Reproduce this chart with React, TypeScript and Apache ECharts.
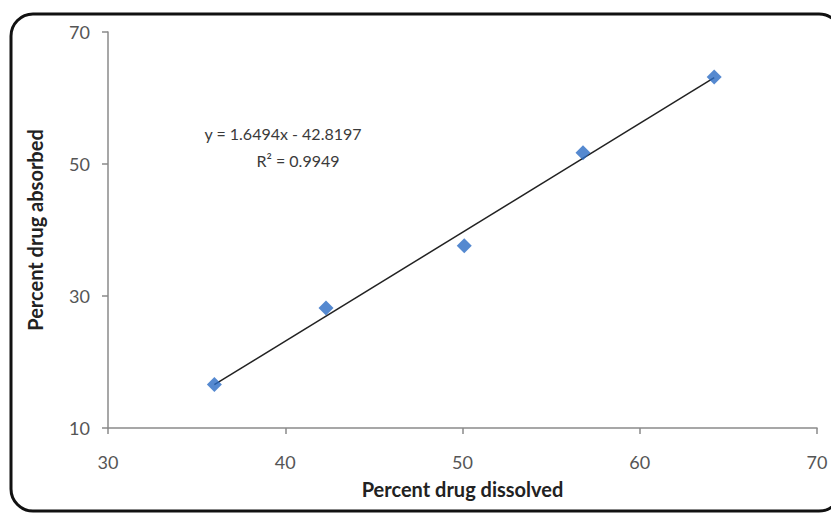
import React, { useEffect, useRef } from "react";
import * as echarts from "echarts";

const dissolved = [36.0, 42.3, 50.1, 56.8, 64.2];
const absorbed = [16.6, 28.2, 37.6, 51.7, 63.2];
const slope = 1.6494;
const intercept = -42.8197;
const equationText = "y = 1.6494x - 42.8197";
const r2Text = "R² = 0.9949";
const xTitle = "Percent drug dissolved";
const yTitle = "Percent drug absorbed";

export default function App() {
  const ref = useRef<HTMLDivElement>(null);
  useEffect(() => {
    const chart = echarts.init(ref.current!, null, { renderer: "svg" });
    const xs = [Math.min(...dissolved), Math.max(...dissolved)];
    const font = "Lato, 'Open Sans', sans-serif";
    chart.setOption({
      animation: false,
      backgroundColor: "#fff",
      grid: { left: 108, top: 32, right: 14, bottom: 85 },
      xAxis: {
        type: "value",
        min: 30,
        max: 70,
        interval: 10,
        name: xTitle,
        nameLocation: "middle",
        nameGap: 51,
        nameTextStyle: { fontFamily: font, fontWeight: "bold", fontSize: 20, color: "#222" },
        axisLine: { show: true, lineStyle: { color: "#8a8a8a", width: 1.5 } },
        axisTick: { show: true, length: 6, lineStyle: { color: "#8a8a8a", width: 1.5 } },
        axisLabel: { margin: 25, fontFamily: font, fontSize: 18, color: "#555" },
        splitLine: { show: false },
      },
      yAxis: {
        type: "value",
        min: 10,
        max: 70,
        interval: 20,
        name: yTitle,
        nameLocation: "middle",
        nameGap: 63,
        nameTextStyle: { fontFamily: font, fontWeight: "bold", fontSize: 20, color: "#222" },
        axisLine: { show: true, lineStyle: { color: "#8a8a8a", width: 1.5 } },
        axisTick: { show: true, length: 6, lineStyle: { color: "#8a8a8a", width: 1.5 } },
        axisLabel: { margin: 18, fontFamily: font, fontSize: 18, color: "#555" },
        splitLine: { show: false },
      },
      graphic: [
        {
          type: "rect",
          shape: { x: 11, y: 14, width: 830, height: 497, r: 22 },
          style: { fill: "none", stroke: "#111", lineWidth: 3 },
          silent: true,
        },
        {
          type: "text",
          x: 283,
          y: 133,
          style: { text: equationText, fontFamily: font, fontSize: 16, fill: "#3a3a3a", align: "center", verticalAlign: "middle" },
        },
        {
          type: "text",
          x: 298,
          y: 160,
          style: { text: r2Text, fontFamily: font, fontSize: 16, fill: "#3a3a3a", align: "center", verticalAlign: "middle" },
        },
      ],
      series: [
        {
          type: "line",
          data: xs.map((x) => [x, slope * x + intercept]),
          symbol: "none",
          lineStyle: { color: "#222", width: 1.5 },
          z: 2,
        },
        {
          type: "scatter",
          data: dissolved.map((x, i) => [x, absorbed[i]]),
          symbol: "diamond",
          symbolSize: [15, 15],
          itemStyle: { color: "#2b6cc4" },
          z: 3,
        },
      ],
    });
    return () => chart.dispose();
  }, []);
  return <div ref={ref} style={{ width: 831, height: 513, position: "absolute", left: 0, top: 0 }} />;
}
